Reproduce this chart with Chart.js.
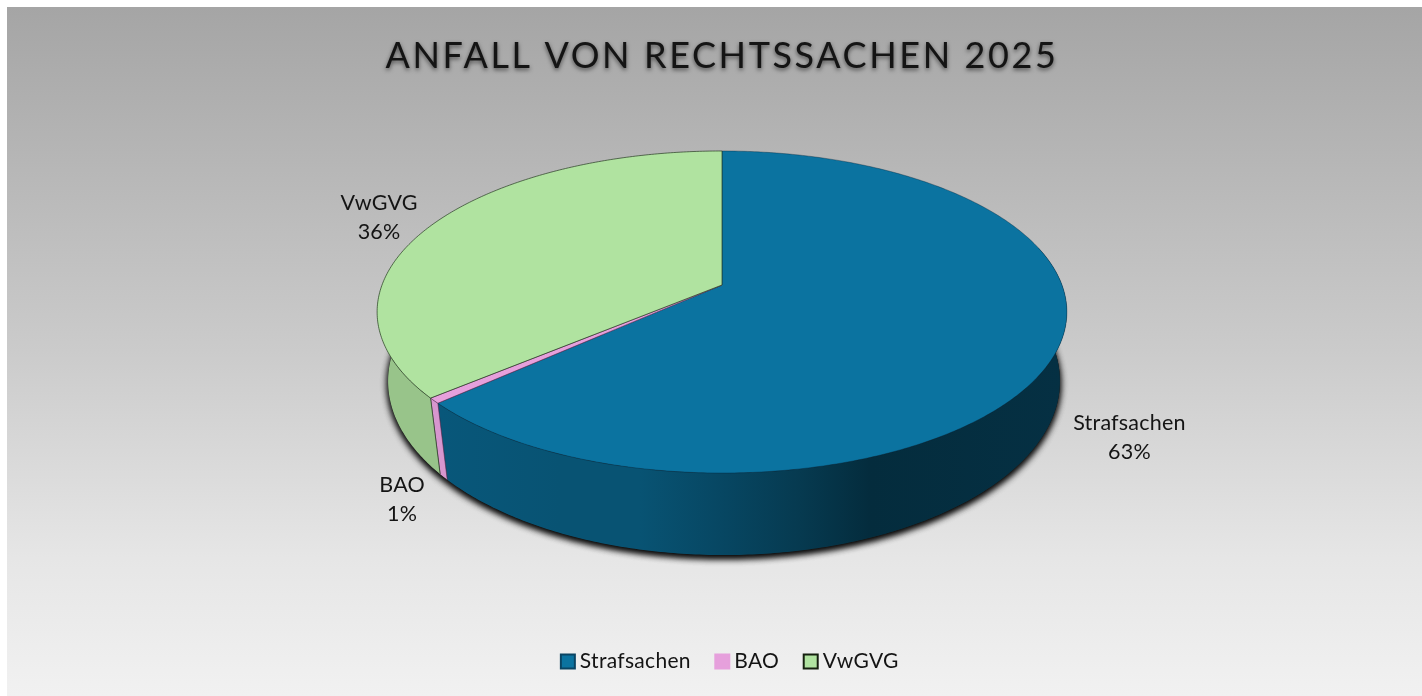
<!DOCTYPE html>
<html lang="de">
<head>
<meta charset="utf-8">
<title>Anfall von Rechtssachen 2025</title>
<script src="https://cdn.jsdelivr.net/npm/chart.js@4"></script>
<style>
html,body{margin:0;padding:0;background:#fff;overflow:hidden}
#wrap{position:relative;width:1422px;height:696px}
</style>
</head>
<body>
<div id="wrap"><canvas id="c" width="1422" height="696"></canvas></div>
<script>
const titleText = 'ANFALL VON RECHTSSACHEN 2025';
const categories = ['Strafsachen', 'BAO', 'VwGVG'];
const shares = [63.3, 0.55, 36.15];
const faceColors = ['#0b73a0', '#e6a0dc', '#b0e3a0'];
const legendBorders = ['#0a4463', '#e6a0dc', '#15200f'];
const edgeColors = ['rgba(0,30,50,.35)', 'rgba(90,50,90,.6)', 'rgba(40,60,35,.7)'];
const wallShade = [1, 1.3, 1.2];

const FONT = 'Lato, Carlito, "Open Sans", sans-serif';
const INK = '#141414';
const view = {x: 722, y: 285, a: 340, b: 156.5, k: -0.1677};
const floor = {dx: 2, dy: 67, sx: 0.974, sy: 1.08};
const labelNudge = [[74, 84], [-32, 98.5], [-55, -6]];
const shadeStops = [[440, .76], [560, .72], [640, .72], [720, .62], [800, .5], [870, .38], [1062, .42]];

function project(angle, lower) {
  const u = Math.cos(angle), v = Math.sin(angle);
  const w = 1 + view.k * v;
  if (!lower) return {x: view.x + view.a * u / w, y: view.y + view.b * v / w};
  return {x: view.x + floor.dx + floor.sx * view.a * u / w,
          y: view.y + floor.dy + floor.sy * view.b * v / w};
}
function hexRgb(h) {
  return [1, 3, 5].map(i => parseInt(h.substr(i, 2), 16));
}
function rimPath(ctx, start, end, lower, moveFirst) {
  const n = Math.max(2, Math.ceil(Math.abs(end - start) * 90));
  for (let i = 0; i <= n; i++) {
    const p = project(start + (end - start) * i / n, lower);
    if (i === 0 && moveFirst) ctx.moveTo(p.x, p.y); else ctx.lineTo(p.x, p.y);
  }
}
function wallFill(ctx, idx) {
  const first = shadeStops[0][0], last = shadeStops[shadeStops.length - 1][0];
  const g = ctx.createLinearGradient(first, 0, last, 0);
  const rgb = hexRgb(faceColors[idx]);
  shadeStops.forEach(([x, b]) => {
    const f = idx === 0 ? b : .72;
    const c = rgb.map(v => Math.min(255, Math.round(v * f * wallShade[idx])));
    g.addColorStop((x - first) / (last - first), `rgb(${c.join(',')})`);
  });
  return g;
}
function visibleRange(start, end) {
  // keep the stretch of the rim that faces the viewer (lower half plus a margin)
  const lo = -0.25, hi = Math.PI + 0.25;
  let best = null;
  for (const turn of [-2, 0, 2]) {
    const a = Math.max(start, lo + turn * Math.PI), b = Math.min(end, hi + turn * Math.PI);
    if (b > a && (!best || b - a > best[1] - best[0])) best = [a, b];
  }
  return best;
}

const piePlugin = {
  id: 'tiltedPie',
  beforeLayout(chart) {
    chart.ctx.letterSpacing = '0.3px';
  },
  afterLayout(chart) {
    const wrap = (box, fn) => {
      if (!box || box.__wrapped) return;
      const orig = box.draw.bind(box);
      box.draw = function () { fn(chart.ctx, orig); };
      box.__wrapped = true;
    };
    wrap(chart.titleBlock, (ctx, orig) => {
      ctx.save();
      ctx.letterSpacing = '2.6px';
      ctx.shadowColor = 'rgba(0,0,0,.55)';
      ctx.shadowBlur = 4;
      ctx.shadowOffsetY = 2;
      orig();
      ctx.restore();
    });
    wrap(chart.legend, (ctx, orig) => {
      ctx.save();
      ctx.translate(10.5, 0);
      ctx.letterSpacing = '0.3px';
      const ft = ctx.fillText;
      ctx.fillText = function (t, x, y, m) {
        return m === undefined ? ft.call(this, t, x - 5.5, y) : ft.call(this, t, x - 5.5, y, m);
      };
      orig();
      delete ctx.fillText;
      ctx.restore();
    });
  },
  beforeDraw(chart) {
    const {ctx, width, height} = chart;
    ctx.save();
    const g = ctx.createLinearGradient(0, 7, 0, height);
    g.addColorStop(0, '#a5a5a5');
    g.addColorStop(.5, '#cbcbcb');
    g.addColorStop(.8, '#e6e6e6');
    g.addColorStop(1, '#f1f1f1');
    ctx.fillStyle = g;
    ctx.fillRect(7, 7, width - 7, height - 7);
    ctx.restore();
  },
  beforeDatasetsDraw(chart) {
    const ctx = chart.ctx;
    const arcs = chart.getDatasetMeta(0).data;

    // soft cast shadow below the drum
    for (let pass = 0; pass < 2; pass++) {
      ctx.save();
      ctx.shadowColor = 'rgba(0,0,0,.9)';
      ctx.shadowBlur = 7;
      ctx.shadowOffsetY = 3;
      ctx.fillStyle = '#222';
      ctx.beginPath();
      rimPath(ctx, -0.1, Math.PI + 0.1, true, true);
      ctx.closePath();
      ctx.fill();
      ctx.restore();
    }

    // side walls
    arcs.forEach((el, i) => {
      const r = visibleRange(el.startAngle, el.endAngle);
      if (!r) return;
      ctx.save();
      ctx.fillStyle = wallFill(ctx, i);
      ctx.beginPath();
      rimPath(ctx, r[0], r[1], false, true);
      rimPath(ctx, r[1], r[0], true, false);
      ctx.closePath();
      ctx.fill();
      ctx.restore();
      // wall seams
      [el.startAngle, el.endAngle].forEach(a => {
        if (Math.sin(a) < 0.17) return;
        const t = project(a), b = project(a, true);
        ctx.save();
        ctx.strokeStyle = edgeColors[i];
        ctx.lineWidth = 1;
        ctx.beginPath(); ctx.moveTo(t.x, t.y); ctx.lineTo(b.x, b.y); ctx.stroke();
        ctx.restore();
      });
    });

    // top faces
    arcs.forEach((el, i) => {
      ctx.save();
      ctx.fillStyle = faceColors[i];
      ctx.strokeStyle = edgeColors[i];
      ctx.lineWidth = 1;
      ctx.lineJoin = 'round';
      ctx.beginPath();
      ctx.moveTo(view.x, view.y);
      rimPath(ctx, el.startAngle, el.endAngle, false, false);
      ctx.closePath();
      ctx.fill();
      ctx.stroke();
      ctx.restore();
    });
    return false;
  },
  afterDraw(chart) {
    const ctx = chart.ctx;
    const arcs = chart.getDatasetMeta(0).data;
    const values = chart.data.datasets[0].data;
    const total = values.reduce((s, v) => s + v, 0);
    ctx.save();
    ctx.letterSpacing = '0.2px';
    ctx.font = `21.5px ${FONT}`;
    ctx.fillStyle = INK;
    ctx.textAlign = 'center';
    ctx.textBaseline = 'middle';
    arcs.forEach((el, i) => {
      const p = project((el.startAngle + el.endAngle) / 2);
      const x = p.x + labelNudge[i][0], y = p.y + labelNudge[i][1];
      ctx.fillText(chart.data.labels[i], x, y - 14.5);
      ctx.fillText(Math.round(values[i] / total * 100) + '%', x, y + 14.5);
    });
    ctx.restore();
  }
};

new Chart(document.getElementById('c'), {
  type: 'pie',
  data: {
    labels: categories,
    datasets: [{
      data: shares,
      backgroundColor: faceColors,
      borderColor: legendBorders,
      borderWidth: 2
    }]
  },
  options: {
    responsive: false,
    animation: false,
    layout: {padding: {top: 25, left: 22, right: 0, bottom: 14}},
    plugins: {
      tooltip: {enabled: false},
      title: {
        display: true,
        text: titleText,
        color: INK,
        font: {family: FONT, size: 36, weight: 'normal'},
        padding: {top: 10, bottom: 10}
      },
      legend: {
        position: 'bottom',
        labels: {
          color: INK,
          boxWidth: 14,
          boxHeight: 14,
          padding: 19,
          font: {family: FONT, size: 21}
        }
      }
    }
  },
  plugins: [piePlugin]
});
</script>
</body>
</html>
